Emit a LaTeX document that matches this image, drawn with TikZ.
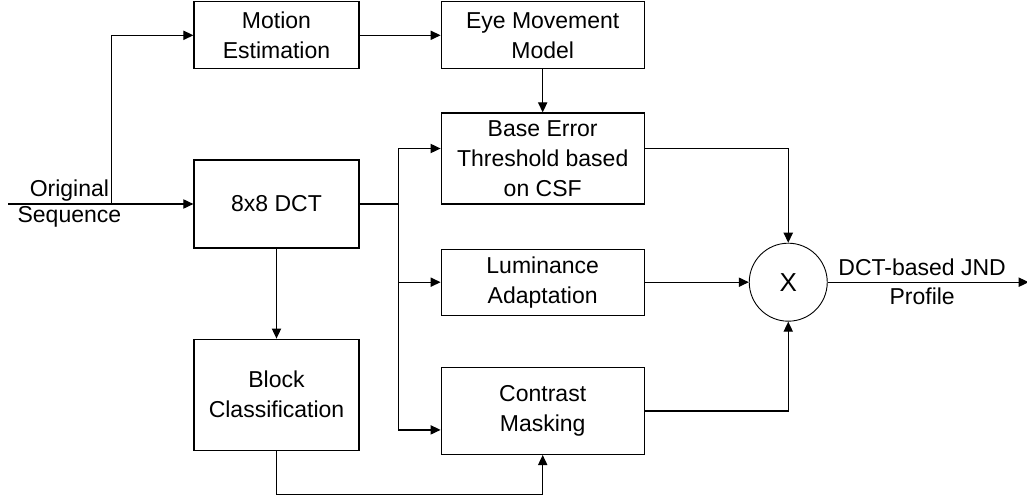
\documentclass[tikz,border=0pt]{standalone}
\usepackage{fontspec}
\setmainfont{Liberation Sans}
\usepackage{tikz}
\usetikzlibrary{arrows.meta,positioning}

\begin{document}
\begin{tikzpicture}[
  line width=0.6pt,
  font=\fontsize{11.5}{15}\selectfont,
  blockl/.style={rectangle, draw, minimum width=82.5pt, align=center, inner sep=1pt},
  blockr/.style={rectangle, draw, minimum width=101.5pt, align=center, inner sep=1pt},
  mult/.style={circle, draw, line width=0.45pt, minimum size=39pt, inner sep=0pt,
               font=\fontsize{13}{13}\selectfont},
  lbl/.style={align=center, inner sep=0pt, font=\fontsize{11.5}{13}\selectfont},
  arr/.style={-{Triangle[length=5pt,width=4.6pt]}},
]
  \useasboundingbox (-138.25pt,-146.5pt) rectangle (375.25pt,102pt);

  % Left column
  \node[blockl, minimum height=44pt] (dct) at (0,0) {8x8 DCT};
  \node[blockl, minimum height=33.5pt, above=45pt of dct] (me) {Motion\\Estimation};
  \node[blockl, minimum height=55.5pt, below=45pt of dct] (blk) {Block\\Classification};

  % Right column
  \node[blockr, minimum height=33.5pt, right=40.5pt of me] (emm) {Eye Movement\\Model};
  \node[blockr, minimum height=45.5pt, below=21.5pt of emm] (base) {Base Error\\Threshold based\\on CSF};
  \node[blockr, minimum height=33pt, below=22pt of base] (lum) {Luminance\\Adaptation};
  \node[blockr, minimum height=43.5pt, below=25.5pt of lum] (cm) {Contrast\\Masking};

  % Multiplier
  \node[mult, right=52pt of lum] (mul) {X};

  % Input / output points
  \coordinate[left=92.5pt of dct] (in);
  \coordinate[right=51.5pt of in] (split1);
  \coordinate[right=19.5pt of dct] (split2);
  \coordinate[right=100.5pt of mul] (out);
  \node[lbl] (seqlbl) at ([xshift=30.5pt]in) {Original\\Sequence};

  % Arrows
  \draw[arr] (in) -- (dct);
  \draw[arr] (split1) |- (me.west);
  \draw[arr] (me) -- (emm);
  \draw[arr] (emm) -- (base);
  \draw[arr] (dct) -- (blk);
  \draw (dct.east) -- (split2);
  \draw[arr] (split2) |- ([yshift=5pt]base.west);
  \draw[arr] (split2) |- (lum.west);
  \draw[arr] (split2) |- ([yshift=-9.5pt]cm.west);
  \draw[arr] (blk.south) -- ++(0,-22pt) -| (cm.south);
  \draw[arr] ([yshift=5pt]base.east) -| (mul.north);
  \draw[arr] (lum) -- (mul);
  \draw[arr] (cm.east) -| (mul.south);
  \draw[arr] (mul) -- node[lbl, pos=0.47, font=\fontsize{11.5}{14.5}\selectfont] (outlbl) {DCT-based JND\\Profile} (out);
\end{tikzpicture}
\end{document}
